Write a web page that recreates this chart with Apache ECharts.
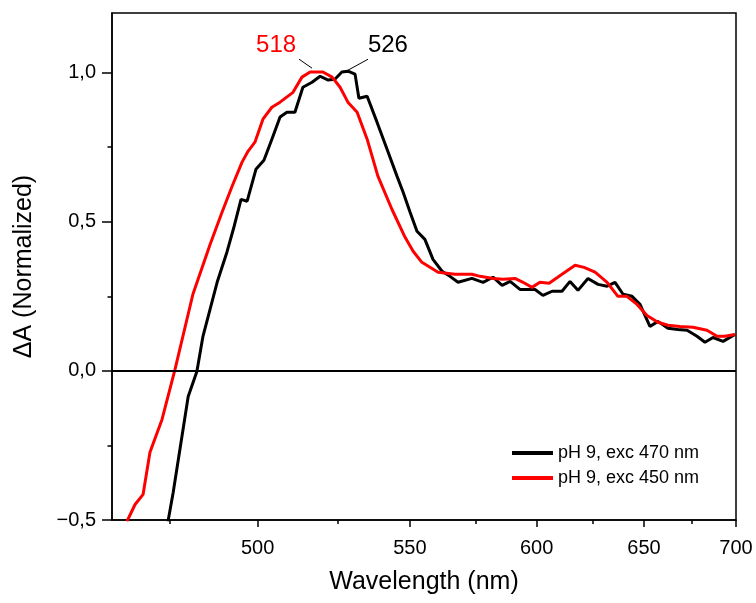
<!DOCTYPE html>
<html>
<head>
<meta charset="utf-8">
<script src="https://cdn.jsdelivr.net/npm/echarts@6/dist/echarts.min.js"></script>
<style>
  html, body { margin: 0; padding: 0; background: #fff; }
  #chart { width: 756px; height: 603px; }
</style>
</head>
<body>
<div id="chart"></div>
<script>
// pH 9, exc 470 nm (black)
const wlBlack = [474.6, 476.0, 480.1, 482.5, 484.2, 488.2, 491.0, 493.1, 495.1, 496.9, 499.5, 501.9, 504.3, 506.8, 508.9, 511.4, 513.9, 516.8, 519.4, 522.0, 524.2, 526.5, 528.5, 530.9, 532.2, 535.0, 538.4, 541.9, 545.4, 547.6, 550.1, 552.6, 555.5, 558.5, 561.9, 564.9, 568.0, 573.4, 577.8, 581.8, 585.5, 588.8, 592.9, 599.3, 602.7, 606.7, 611.1, 614.7, 618.3, 622.9, 627.6, 631.9, 635.7, 639.6, 644.0, 648.0, 653.0, 657.1, 662.3, 667.6, 672.5, 677.9, 682.3, 686.8, 692.5, 699.4];
const valBlack = [-0.505, -0.408, -0.086, -0.002, 0.116, 0.297, 0.398, 0.485, 0.575, 0.569, 0.676, 0.706, 0.777, 0.851, 0.867, 0.867, 0.951, 0.968, 0.988, 0.975, 0.978, 1.002, 1.005, 0.995, 0.914, 0.921, 0.834, 0.743, 0.653, 0.599, 0.532, 0.468, 0.441, 0.374, 0.334, 0.317, 0.297, 0.310, 0.297, 0.314, 0.287, 0.300, 0.273, 0.273, 0.253, 0.267, 0.267, 0.300, 0.270, 0.310, 0.290, 0.284, 0.297, 0.257, 0.250, 0.223, 0.149, 0.166, 0.143, 0.139, 0.136, 0.116, 0.096, 0.112, 0.099, 0.122];

// pH 9, exc 450 nm (red)
const wlRed = [463.8, 465.9, 468.0, 469.8, 473.0, 476.5, 481.4, 486.2, 489.6, 492.5, 495.4, 497.2, 499.2, 501.6, 504.3, 506.8, 510.8, 513.6, 516.2, 520.3, 523.3, 525.9, 528.5, 531.6, 535.0, 538.7, 543.6, 548.3, 551.2, 554.4, 560.4, 566.8, 573.4, 576.6, 581.8, 585.9, 590.8, 594.2, 598.0, 601.4, 605.4, 611.1, 617.0, 621.1, 626.2, 631.9, 637.1, 641.5, 646.5, 651.5, 657.1, 662.3, 668.7, 675.7, 683.4, 689.1, 693.6, 699.4];
const valRed = [-0.505, -0.448, -0.414, -0.273, -0.163, 0.005, 0.257, 0.424, 0.532, 0.619, 0.700, 0.737, 0.767, 0.844, 0.884, 0.901, 0.934, 0.985, 1.002, 1.002, 0.985, 0.951, 0.901, 0.867, 0.777, 0.653, 0.542, 0.448, 0.401, 0.364, 0.331, 0.324, 0.324, 0.317, 0.310, 0.307, 0.310, 0.297, 0.280, 0.297, 0.294, 0.324, 0.354, 0.347, 0.331, 0.297, 0.250, 0.250, 0.223, 0.186, 0.163, 0.153, 0.149, 0.146, 0.136, 0.116, 0.116, 0.122];

const seriesNames = ['pH 9, exc 470 nm', 'pH 9, exc 450 nm'];
const peakLabels = [526, 518];

const xMajorTicks = [500, 550, 600, 650, 700];
const xMinorTicks = [475, 525, 575, 625, 675];
const yMajorTicks = [-0.5, 0, 0.5, 1.0];
const yMinorTicks = [-0.25, 0.25, 0.75];

// axis is linear in 1/wavelength -> use wavenumber (cm-1) on an inverted axis
const toWn = l => 1e7 / l;
const xMin = toWn(700), xMax = toWn(460);

const chart = echarts.init(document.getElementById('chart'));

const fontFam = '"Liberation Sans", Arial, sans-serif';

const baseX = {
  type: 'value', min: xMin, max: xMax, inverse: true, position: 'bottom',
  splitLine: { show: false }
};
const baseY = {
  type: 'value', min: -0.5, max: 1.2, position: 'left',
  splitLine: { show: false }
};

const option = {
  animation: false,
  textStyle: { fontFamily: fontFam },
  grid: {
    left: 112, right: 20, top: 13, bottom: 83,
    show: true, borderColor: '#000', borderWidth: 1.5, backgroundColor: 'transparent'
  },
  legend: {
    orient: 'vertical', left: 512, top: 444, padding: 0,
    itemWidth: 41, itemHeight: 4, itemGap: 7, icon: 'rect',
    textStyle: { color: '#000', fontSize: 18, fontFamily: fontFam },
    data: [seriesNames[0], seriesNames[1]]
  },
  xAxis: [
    Object.assign({}, baseX, {
      name: 'Wavelength (nm)', nameLocation: 'middle', nameGap: 50,
      nameTextStyle: { color: '#000', fontSize: 25, fontFamily: fontFam },
      axisLine: { show: true, onZero: false, lineStyle: { color: '#000', width: 1.5 } },
      axisTick: { show: true, length: 7, customValues: xMajorTicks.map(toWn), lineStyle: { color: '#000', width: 1.5 } },
      axisLabel: {
        show: true, margin: 18, color: '#000', fontSize: 20, fontFamily: fontFam,
        customValues: xMajorTicks.map(toWn),
        formatter: v => String(Math.round(1e7 / v))
      }
    }),
    Object.assign({}, baseX, {
      axisLine: { show: false, onZero: false },
      axisTick: { show: true, length: 4, customValues: xMinorTicks.map(toWn), lineStyle: { color: '#000', width: 1.5 } },
      axisLabel: { show: false }
    })
  ],
  yAxis: [
    Object.assign({}, baseY, {
      name: '\u0394A (Normalized)', nameLocation: 'middle', nameGap: 75,
      nameTextStyle: { color: '#000', fontSize: 25, fontFamily: fontFam },
      axisLine: { show: true, onZero: false, lineStyle: { color: '#000', width: 1.5 } },
      axisTick: { show: true, length: 10, customValues: yMajorTicks, lineStyle: { color: '#000', width: 1.5 } },
      axisLabel: {
        show: true, margin: 16, color: '#000', fontSize: 20, fontFamily: fontFam,
        customValues: yMajorTicks,
        formatter: v => v.toFixed(1).replace('.', ',').replace('-', '\u2212')
      }
    }),
    Object.assign({}, baseY, {
      axisLine: { show: false, onZero: false },
      axisTick: { show: true, length: 4.5, customValues: yMinorTicks, lineStyle: { color: '#000', width: 1.5 } },
      axisLabel: { show: false }
    })
  ],
  series: [
    {
      name: seriesNames[0], type: 'line', symbol: 'none', z: 3,
      itemStyle: { color: '#000' },
      lineStyle: { color: '#000', width: 3 },
      data: wlBlack.map((l, i) => [toWn(l), valBlack[i]]),
      markLine: {
        silent: true, symbol: 'none', label: { show: false },
        lineStyle: { color: '#000', type: 'solid', width: 2 },
        data: [
          { yAxis: 0 },
          [{ coord: [toWn(528.5), 1.008], lineStyle: { width: 1 } }, { coord: [toWn(535.3), 1.045] }]
        ]
      },
      markPoint: {
        silent: true, symbol: 'circle', symbolSize: 0,
        label: { show: true, position: 'inside', color: '#000', fontSize: 24, fontFamily: fontFam },
        data: [{ coord: [toWn(542.2), 1.092], value: peakLabels[0] }]
      }
    },
    {
      name: seriesNames[1], type: 'line', symbol: 'none', z: 4,
      itemStyle: { color: '#ff0000' },
      lineStyle: { color: '#ff0000', width: 3 },
      data: wlRed.map((l, i) => [toWn(l), valRed[i]]),
      markLine: {
        silent: true, symbol: 'none', label: { show: false },
        lineStyle: { color: '#000', type: 'solid', width: 1 },
        data: [
          [{ coord: [toWn(516.8), 1.015] }, { coord: [toWn(512.7), 1.045] }]
        ]
      },
      markPoint: {
        silent: true, symbol: 'circle', symbolSize: 0,
        label: { show: true, position: 'inside', color: '#ff0000', fontSize: 24, fontFamily: fontFam },
        data: [{ coord: [toWn(505.6), 1.092], value: peakLabels[1] }]
      }
    }
  ]
};

chart.setOption(option);
</script>
</body>
</html>
